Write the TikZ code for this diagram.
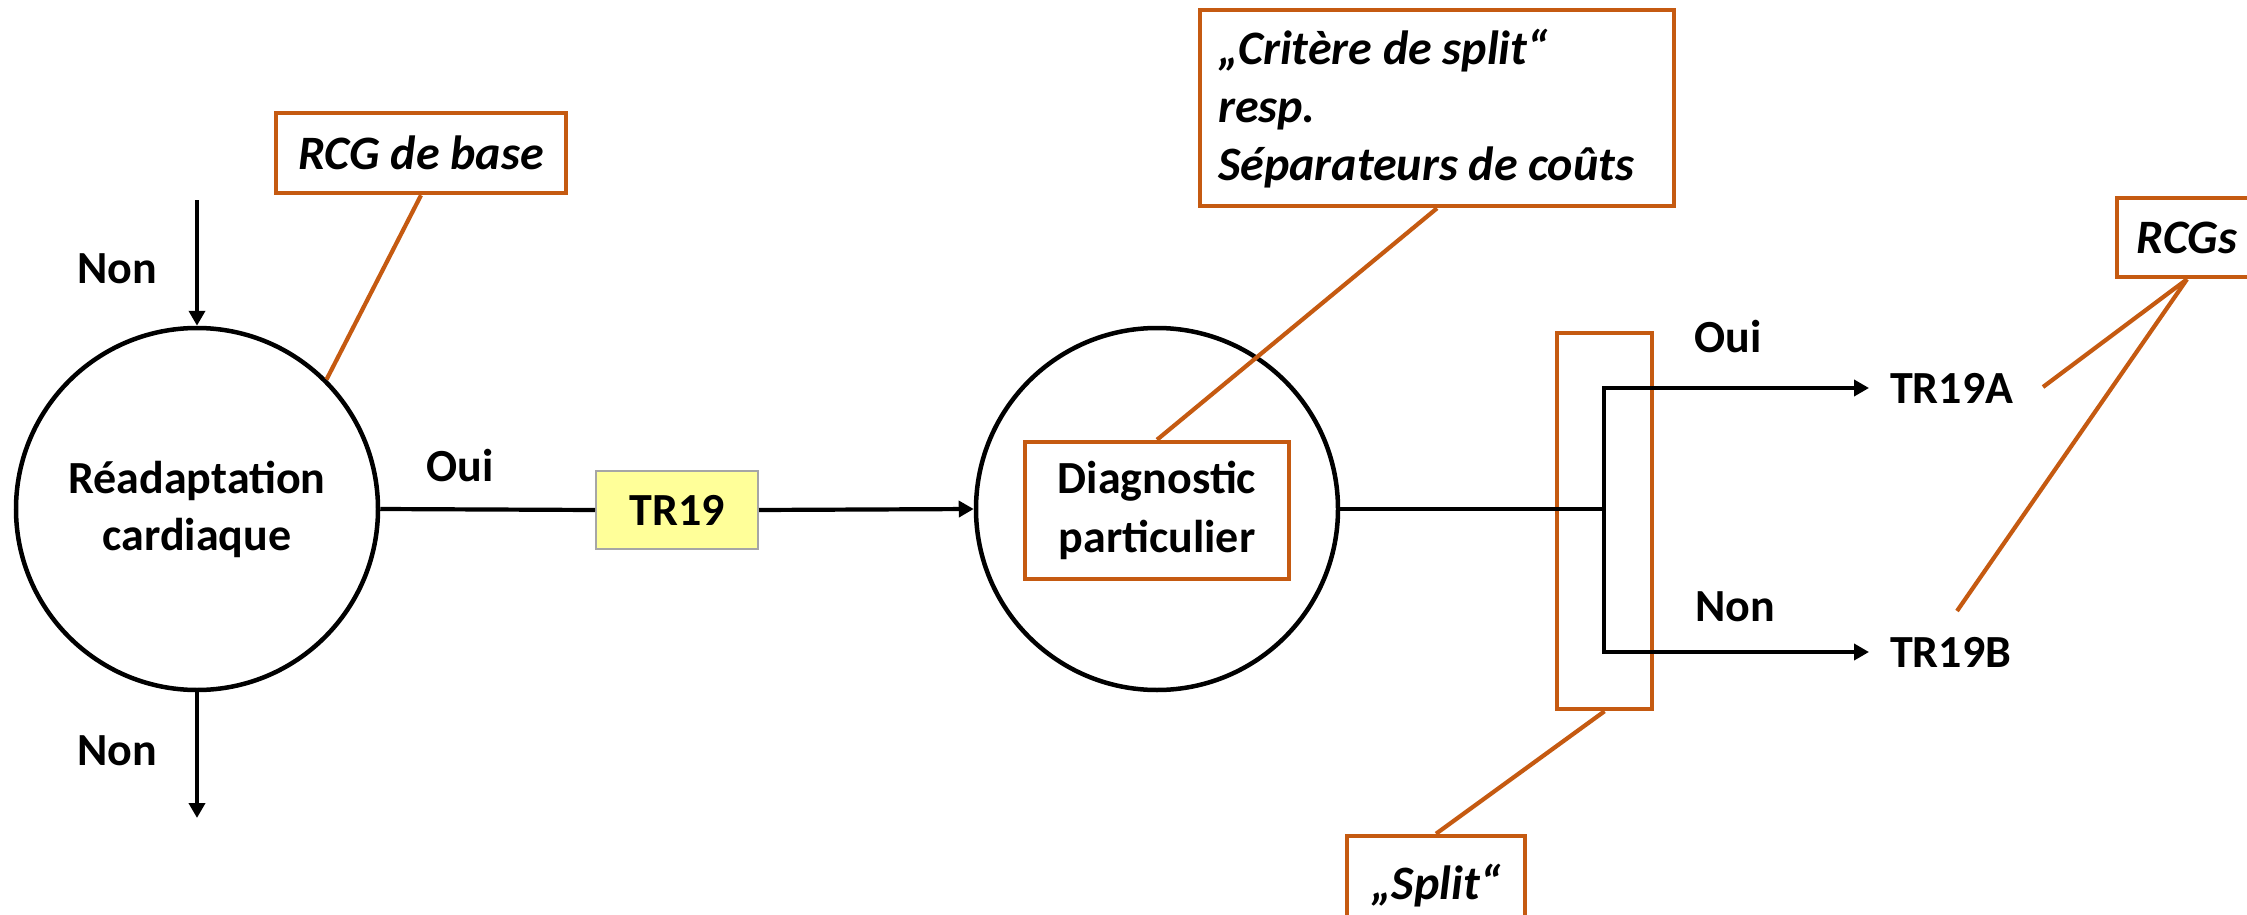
\documentclass[tikz,border=0pt]{standalone}
\usepackage{fontspec}
\setmainfont{Carlito}
\usetikzlibrary{arrows.meta}
\definecolor{acc}{RGB}{197,90,17}
\definecolor{tryellow}{RGB}{255,255,153}
\definecolor{trgray}{RGB}{166,166,166}
\begin{document}
\begin{tikzpicture}[x=1pt,y=-1pt,
  txt/.style={font=\fontsize{46}{57}\selectfont\bfseries, inner sep=0pt, text=black},
  itxt/.style={font=\fontsize{48}{58}\selectfont\bfseries\itshape, inner sep=0pt, text=black},
  state/.style={circle, draw=black, line width=4.5pt, minimum size=362pt, inner sep=0pt, align=center, txt},
  note/.style={draw=acc, line width=4.5pt, fill=white, inner sep=0pt, itxt},
  flow/.style={draw=black, line width=4.2pt},
  arr/.style={flow, -{Triangle[length=15pt,width=16pt]}},
  lead/.style={draw=acc, line width=4.2pt}]
\clip (0,0) rectangle (2247,915);
\fill[white] (0,0) rectangle (2247,915);

% main states
\node[state] (c1) at (197,509) {Réadaptation\\cardiaque};
\node[state] (c2) at (1157,509) {};
\node[note, font=\fontsize{46}{59}\selectfont\bfseries, minimum width=264pt, minimum height=137pt, align=center] (diag) at (1157,510.5) {Diagnostic\\particulier};
\node[draw=trgray, line width=2pt, fill=tryellow, minimum width=162pt, minimum height=78pt, txt] (tr) at (677,510) {TR19};

% split bracket rectangle
\node[draw=acc, line width=4.5pt, minimum width=95pt, minimum height=376pt, inner sep=0pt] (split) at (1604.5,521) {};

% annotation boxes
\node[note, minimum width=290pt, minimum height=80pt] (rcg) at (421,153) {RCG de base};
\node[note, minimum width=474pt, minimum height=196pt] (crit) at (1437,108) {};
\node[itxt, align=left, anchor=west] (crittxt) at (1218,109) {„Critère de split“\\resp.\\Séparateurs de coûts};
\node[note, minimum width=178pt, minimum height=100pt] (slabel) at (1436,886) {„Split“};
\node[note, minimum width=140pt, minimum height=79pt] (rcgs) at (2187,237.5) {RCGs};

% labels
\node[txt] (non1) at (117,269) {Non};
\node[txt] (non2) at (117,751) {Non};
\node[txt] (oui1) at (460,466) {Oui};
\node[txt] (oui2) at (1728,337) {Oui};
\node[txt] (non3) at (1735,607) {Non};
\node[txt, anchor=west] (tra) at (1890,388) {TR19A};
\node[txt, anchor=west] (trb) at (1890,652) {TR19B};

% free ends
\coordinate (intop) at (197,200);
\coordinate (outbot) at (197,818);
\coordinate (br) at (1604,509);
\coordinate (la) at (2043,387);
\coordinate (lb) at (1957,611);

% connectors
\draw[arr] (intop) -- (c1.north);
\draw[arr] (c1.south) -- (outbot);
\draw[flow] (c1.east) -- (tr.west);
\draw[arr] (tr.east) -- (c2.west);
\draw[flow] (c2.east) -- (br);
\draw[arr] (br) |- ([xshift=-21pt]tra.west);
\draw[arr] (br) |- ([xshift=-21pt]trb.west);

% leaders
\draw[lead] (rcg.south) -- (c1.45);
\draw[lead] (crit.south) -- (diag.north);
\draw[lead] (split.south) -- (slabel.north);
\draw[lead] (rcgs.south) -- (la);
\draw[lead] (rcgs.south) -- (lb);
\end{tikzpicture}
\end{document}
